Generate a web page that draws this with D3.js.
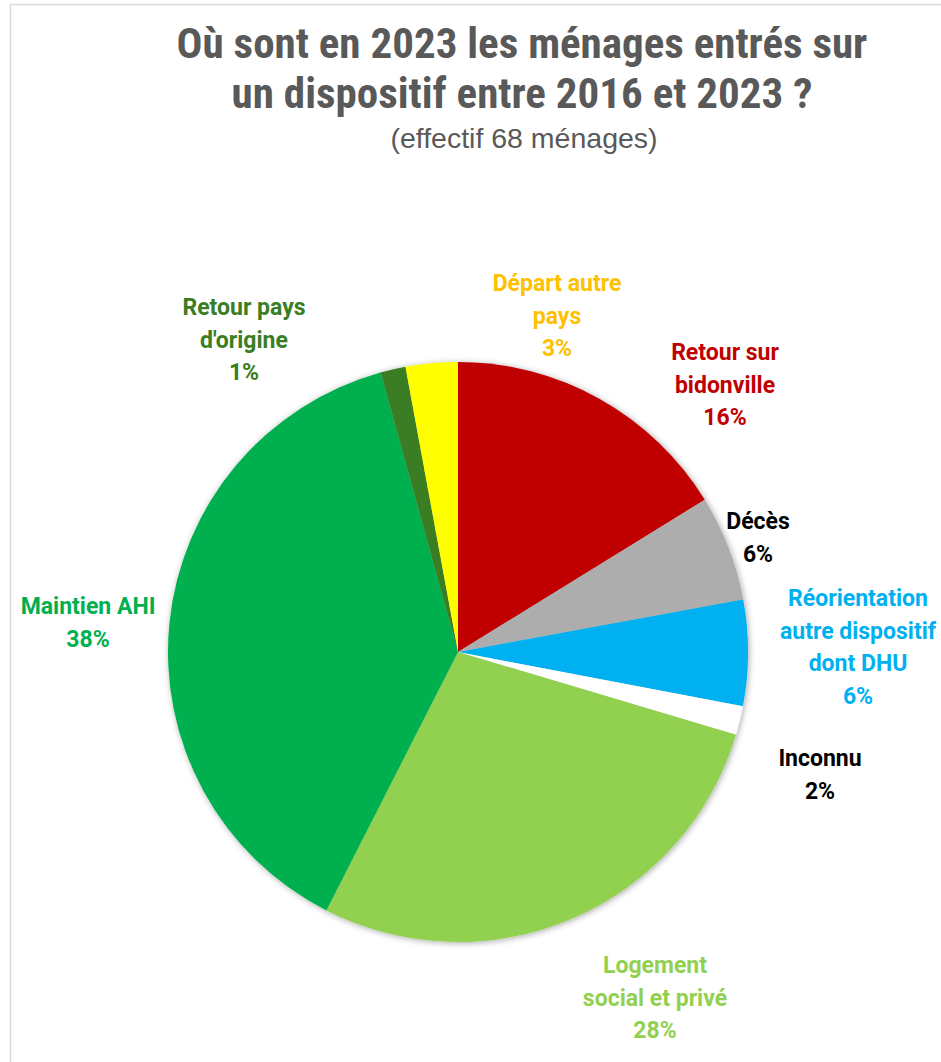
<!DOCTYPE html>
<html>
<head>
<meta charset="utf-8">
<script src="https://cdn.jsdelivr.net/npm/d3@7"></script>
<style>
  body { margin: 0; background: #fff; }
  svg { display: block; }
  .title { font-family: "Liberation Sans Narrow", "Roboto Condensed", "Liberation Sans", sans-serif; font-weight: bold; fill: #595959; }
  .sub { font-family: "Liberation Sans Narrow", "Liberation Sans", sans-serif; fill: #595959; }
  .lbl { font-family: Roboto, "Open Sans", sans-serif; font-weight: bold; font-size: 23px; }
</style>
</head>
<body>
<script>
// data
var categories = ["Retour sur bidonville", "Décès", "Réorientation autre dispositif dont DHU", "Inconnu",
                  "Logement social et privé", "Maintien AHI", "Retour pays d'origine", "Départ autre pays"];
var shares = [16.2, 5.9, 5.9, 1.6, 27.9, 38.2, 1.4, 2.9];
var labelLines = [["Retour sur", "bidonville"], ["Décès"], ["Réorientation", "autre dispositif", "dont DHU"], ["Inconnu"],
                  ["Logement", "social et privé"], ["Maintien AHI"], ["Retour pays", "d'origine"], ["Départ autre", "pays"]];

// styles
var colors = ["#C00000", "#ADADAD", "#00B0F0", "#FFFFFF", "#92D050", "#00B050", "#3A7D22", "#FFFF00"];
var textColors = ["#C00000", "#000000", "#00B0F0", "#000000", "#92D050", "#00B050", "#3A7D22", "#FFC000"];
// label block centre (top line) relative to pie centre
var labelPos = [[267, -300], [300, -131], [400, -54], [362, 106], [197, 313], [-370, -46], [-214, -345], [99, -369]];

var width = 941, height = 1062;
var cx = 458, cy = 652, radius = 290;
var lineH = 32.5;

var svg = d3.select('body').append('svg')
            .attr('width', width)
            .attr('height', height);

// chart frame
svg.append('path')
   .attr('d', 'M10.5,' + height + 'V4.5H' + width)
   .attr('fill', 'none')
   .attr('stroke', '#D9D9D9')
   .attr('stroke-width', 1.5);

var defs = svg.append('defs');
var f = defs.append('filter').attr('id', 'shadow')
            .attr('x', '-10%').attr('y', '-10%').attr('width', '120%').attr('height', '120%');
f.append('feDropShadow').attr('dx', 1).attr('dy', 1).attr('stdDeviation', 3)
 .attr('flood-color', '#000').attr('flood-opacity', 0.35);

// titles
svg.append('text').attr('class', 'title').attr('x', 522).attr('y', 58)
   .attr('text-anchor', 'middle').attr('font-size', 43)
   .text('Où sont en 2023 les ménages entrés sur');
svg.append('text').attr('class', 'title').attr('x', 522).attr('y', 108)
   .attr('text-anchor', 'middle').attr('font-size', 43)
   .text('un dispositif entre 2016 et 2023 ?');
svg.append('text').attr('class', 'sub').attr('x', 524).attr('y', 148)
   .attr('text-anchor', 'middle').attr('font-size', 28.5)
   .text('(effectif 68 ménages)');

var pie = d3.pie().sort(null).value(function(d) { return d; });
var arc = d3.arc().innerRadius(0).outerRadius(radius);
var arcs = pie(shares);

var g = svg.append('g').attr('transform', 'translate(' + cx + ',' + cy + ')');

g.append('g').attr('filter', 'url(#shadow)')
 .selectAll('path')
 .data(arcs)
 .enter()
 .append('path')
 .attr('d', arc)
 .attr('fill', function(d, i) { return colors[i]; });

var labels = g.selectAll('text.lbl')
  .data(arcs)
  .enter()
  .append('text')
  .attr('class', 'lbl')
  .attr('text-anchor', 'middle')
  .attr('fill', function(d, i) { return textColors[i]; })
  .attr('transform', function(d, i) { return 'translate(' + labelPos[i][0] + ',' + labelPos[i][1] + ')'; });

labels.each(function(d, i) {
  var t = d3.select(this);
  var lines = labelLines[i].concat([Math.round(shares[i]) + '%']);
  lines.forEach(function(s, k) {
    t.append('tspan').attr('x', 0).attr('y', k * lineH).attr('dy', '0.35em').text(s);
  });
});
</script>
</body>
</html>
